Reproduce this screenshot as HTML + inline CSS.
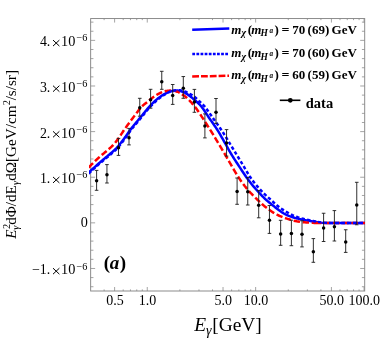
<!DOCTYPE html><html><head><meta charset="utf-8"><title>plot</title><style>
html,body{margin:0;padding:0;background:#fff;}svg{display:block;will-change:transform}
text{font-family:"Liberation Serif",serif;fill:#000}
</style></head><body>
<svg width="382" height="338" viewBox="0 0 382 338">
<rect width="382" height="338" fill="#fff"/>
<defs><clipPath id="c"><rect x="89.0" y="18.55" width="276.3" height="272.45"/></clipPath></defs>
<path d="M114.62,291.0v-4M114.62,18.55v4M147.25,291.0v-4M147.25,18.55v4M223.02,291.0v-4M223.02,18.55v4M255.65,291.0v-4M255.65,18.55v4M331.42,291.0v-4M331.42,18.55v4M364.05,291.0v-4M364.05,18.55v4M104.11,291.0v-1.6M104.11,18.55v1.6M123.20,291.0v-1.6M123.20,18.55v1.6M130.46,291.0v-1.6M130.46,18.55v1.6M136.74,291.0v-1.6M136.74,18.55v1.6M142.29,291.0v-1.6M142.29,18.55v1.6M179.88,291.0v-1.6M179.88,18.55v1.6M198.97,291.0v-1.6M198.97,18.55v1.6M212.51,291.0v-1.6M212.51,18.55v1.6M231.60,291.0v-1.6M231.60,18.55v1.6M238.86,291.0v-1.6M238.86,18.55v1.6M245.14,291.0v-1.6M245.14,18.55v1.6M250.69,291.0v-1.6M250.69,18.55v1.6M288.28,291.0v-1.6M288.28,18.55v1.6M307.37,291.0v-1.6M307.37,18.55v1.6M320.91,291.0v-1.6M320.91,18.55v1.6M340.00,291.0v-1.6M340.00,18.55v1.6M347.26,291.0v-1.6M347.26,18.55v1.6M353.54,291.0v-1.6M353.54,18.55v1.6M359.09,291.0v-1.6M359.09,18.55v1.6M90.65,286.72h2.8M364.7,286.72h-2.8M90.65,277.59h2.8M364.7,277.59h-2.8M90.65,268.47h4.5M364.7,268.47h-4.5M90.65,259.35h2.8M364.7,259.35h-2.8M90.65,250.22h2.8M364.7,250.22h-2.8M90.65,241.10h2.8M364.7,241.10h-2.8M90.65,231.97h2.8M364.7,231.97h-2.8M90.65,222.85h4.5M364.7,222.85h-4.5M90.65,213.73h2.8M364.7,213.73h-2.8M90.65,204.60h2.8M364.7,204.60h-2.8M90.65,195.48h2.8M364.7,195.48h-2.8M90.65,186.35h2.8M364.7,186.35h-2.8M90.65,177.23h4.5M364.7,177.23h-4.5M90.65,168.11h2.8M364.7,168.11h-2.8M90.65,158.98h2.8M364.7,158.98h-2.8M90.65,149.86h2.8M364.7,149.86h-2.8M90.65,140.73h2.8M364.7,140.73h-2.8M90.65,131.61h4.5M364.7,131.61h-4.5M90.65,122.49h2.8M364.7,122.49h-2.8M90.65,113.36h2.8M364.7,113.36h-2.8M90.65,104.24h2.8M364.7,104.24h-2.8M90.65,95.11h2.8M364.7,95.11h-2.8M90.65,85.99h4.5M364.7,85.99h-4.5M90.65,76.87h2.8M364.7,76.87h-2.8M90.65,67.74h2.8M364.7,67.74h-2.8M90.65,58.62h2.8M364.7,58.62h-2.8M90.65,49.49h2.8M364.7,49.49h-2.8M90.65,40.37h4.5M364.7,40.37h-4.5M90.65,31.25h2.8M364.7,31.25h-2.8M90.65,22.12h2.8M364.7,22.12h-2.8" stroke="#868686" stroke-width="0.75" fill="none"/>
<rect x="90.65" y="18.55" width="274.04999999999995" height="272.45" fill="none" stroke="#868686" stroke-width="0.95"/>
<g clip-path="url(#c)" fill="none" stroke-linejoin="round">
<path d="M88.50,172.70 L89.18,172.09 L89.85,171.48 L90.53,170.87 L91.21,170.26 L91.88,169.65 L92.56,169.03 L93.24,168.42 L93.92,167.80 L94.59,167.19 L95.27,166.57 L95.95,165.96 L96.62,165.35 L97.30,164.74 L97.98,164.14 L98.65,163.54 L99.33,162.95 L100.01,162.36 L100.69,161.78 L101.36,161.20 L102.04,160.63 L102.72,160.06 L103.39,159.50 L104.07,158.94 L104.75,158.37 L105.42,157.81 L106.10,157.24 L106.78,156.68 L107.46,156.10 L108.13,155.53 L108.81,154.95 L109.49,154.38 L110.16,153.81 L110.84,153.24 L111.52,152.67 L112.19,152.09 L112.87,151.51 L113.55,150.91 L114.23,150.30 L114.90,149.67 L115.58,149.02 L116.26,148.34 L116.93,147.63 L117.61,146.87 L118.29,146.09 L118.96,145.28 L119.64,144.44 L120.32,143.59 L121.00,142.72 L121.67,141.84 L122.35,140.95 L123.03,140.06 L123.70,139.16 L124.38,138.25 L125.06,137.31 L125.73,136.36 L126.41,135.39 L127.09,134.43 L127.77,133.46 L128.44,132.49 L129.12,131.54 L129.80,130.59 L130.47,129.66 L131.15,128.76 L131.83,127.88 L132.50,127.01 L133.18,126.16 L133.86,125.32 L134.54,124.49 L135.21,123.67 L135.89,122.86 L136.57,122.05 L137.24,121.24 L137.92,120.44 L138.60,119.64 L139.27,118.84 L139.95,118.03 L140.63,117.22 L141.31,116.40 L141.98,115.58 L142.66,114.74 L143.34,113.89 L144.01,113.04 L144.69,112.19 L145.37,111.35 L146.04,110.52 L146.72,109.70 L147.40,108.90 L148.08,108.13 L148.75,107.37 L149.43,106.61 L150.11,105.87 L150.78,105.14 L151.46,104.43 L152.14,103.73 L152.81,103.05 L153.49,102.40 L154.17,101.76 L154.85,101.14 L155.52,100.52 L156.20,99.92 L156.88,99.34 L157.55,98.77 L158.23,98.23 L158.91,97.71 L159.58,97.21 L160.26,96.73 L160.94,96.26 L161.62,95.81 L162.29,95.37 L162.97,94.95 L163.65,94.55 L164.32,94.16 L165.00,93.81 L165.68,93.47 L166.35,93.14 L167.03,92.81 L167.71,92.49 L168.38,92.18 L169.06,91.89 L169.74,91.63 L170.42,91.41 L171.09,91.23 L171.77,91.10 L172.45,91.01 L173.12,90.93 L173.80,90.85 L174.48,90.78 L175.15,90.71 L175.83,90.66 L176.51,90.63 L177.19,90.61 L177.86,90.60 L178.54,90.64 L179.22,90.74 L179.89,90.89 L180.57,91.07 L181.25,91.29 L181.92,91.53 L182.60,91.78 L183.28,92.04 L183.96,92.30 L184.63,92.62 L185.31,92.99 L185.99,93.41 L186.66,93.87 L187.34,94.35 L188.02,94.85 L188.69,95.35 L189.37,95.84 L190.05,96.32 L190.73,96.81 L191.40,97.32 L192.08,97.84 L192.76,98.37 L193.43,98.93 L194.11,99.49 L194.79,100.07 L195.46,100.66 L196.14,101.25 L196.82,101.86 L197.50,102.49 L198.17,103.13 L198.85,103.80 L199.53,104.50 L200.20,105.22 L200.88,105.98 L201.56,106.78 L202.23,107.65 L202.91,108.56 L203.59,109.51 L204.27,110.50 L204.94,111.52 L205.62,112.55 L206.30,113.60 L206.97,114.64 L207.65,115.68 L208.33,116.71 L209.00,117.72 L209.68,118.69 L210.36,119.66 L211.04,120.62 L211.71,121.58 L212.39,122.54 L213.07,123.50 L213.74,124.46 L214.42,125.43 L215.10,126.42 L215.77,127.42 L216.45,128.45 L217.13,129.49 L217.81,130.57 L218.48,131.67 L219.16,132.81 L219.84,133.96 L220.51,135.14 L221.19,136.33 L221.87,137.52 L222.54,138.72 L223.22,139.93 L223.90,141.12 L224.58,142.31 L225.25,143.50 L225.93,144.71 L226.61,145.93 L227.28,147.15 L227.96,148.36 L228.64,149.57 L229.31,150.77 L229.99,151.95 L230.67,153.11 L231.35,154.24 L232.02,155.35 L232.70,156.44 L233.38,157.52 L234.05,158.58 L234.73,159.63 L235.41,160.68 L236.08,161.72 L236.76,162.75 L237.44,163.78 L238.12,164.81 L238.79,165.84 L239.47,166.87 L240.15,167.91 L240.82,168.94 L241.50,169.98 L242.18,171.01 L242.85,172.04 L243.53,173.06 L244.21,174.07 L244.88,175.06 L245.56,176.05 L246.24,177.01 L246.92,177.95 L247.59,178.88 L248.27,179.80 L248.95,180.70 L249.62,181.59 L250.30,182.46 L250.98,183.33 L251.65,184.18 L252.33,185.01 L253.01,185.83 L253.69,186.64 L254.36,187.43 L255.04,188.20 L255.72,188.96 L256.39,189.71 L257.07,190.45 L257.75,191.19 L258.42,191.91 L259.10,192.64 L259.78,193.36 L260.46,194.09 L261.13,194.82 L261.81,195.55 L262.49,196.27 L263.16,196.98 L263.84,197.67 L264.52,198.34 L265.19,198.98 L265.87,199.60 L266.55,200.20 L267.23,200.79 L267.90,201.36 L268.58,201.92 L269.26,202.48 L269.93,203.04 L270.61,203.60 L271.29,204.16 L271.96,204.70 L272.64,205.25 L273.32,205.79 L274.00,206.32 L274.67,206.86 L275.35,207.39 L276.03,207.92 L276.70,208.46 L277.38,209.01 L278.06,209.55 L278.73,210.08 L279.41,210.58 L280.09,211.06 L280.77,211.52 L281.44,211.97 L282.12,212.40 L282.80,212.83 L283.47,213.24 L284.15,213.63 L284.83,214.00 L285.50,214.36 L286.18,214.69 L286.86,215.00 L287.54,215.30 L288.21,215.59 L288.89,215.87 L289.57,216.13 L290.24,216.39 L290.92,216.63 L291.60,216.86 L292.27,217.09 L292.95,217.31 L293.63,217.52 L294.31,217.72 L294.98,217.92 L295.66,218.11 L296.34,218.29 L297.01,218.46 L297.69,218.63 L298.37,218.78 L299.04,218.93 L299.72,219.08 L300.40,219.21 L301.08,219.35 L301.75,219.48 L302.43,219.60 L303.11,219.73 L303.78,219.86 L304.46,219.99 L305.14,220.12 L305.81,220.24 L306.49,220.37 L307.17,220.49 L307.85,220.62 L308.52,220.74 L309.20,220.86 L309.88,220.98 L310.55,221.10 L311.23,221.21 L311.91,221.33 L312.58,221.45 L313.26,221.56 L313.94,221.68 L314.62,221.79 L315.29,221.89 L315.97,222.00 L316.65,222.10 L317.32,222.21 L318.00,222.32" stroke="#0000ff" stroke-width="2.5"/>
<path d="M318.00,222.32 L322.27,222.81 L326.55,222.98 L330.82,223.00 L335.09,223.00 L339.36,223.00 L343.64,223.00 L347.91,223.00 L352.18,223.00 L356.45,223.00 L360.73,223.00 L365.00,223.00" stroke="#0000ff" stroke-width="2.3"/>
<path d="M88.50,167.62 L89.18,166.93 L89.85,166.25 L90.53,165.57 L91.21,164.90 L91.88,164.23 L92.56,163.56 L93.24,162.90 L93.92,162.23 L94.59,161.57 L95.27,160.92 L95.95,160.27 L96.62,159.62 L97.30,158.99 L97.98,158.36 L98.65,157.73 L99.33,157.12 L100.01,156.52 L100.69,155.93 L101.36,155.35 L102.04,154.79 L102.72,154.23 L103.39,153.67 L104.07,153.12 L104.75,152.57 L105.42,152.02 L106.10,151.46 L106.78,150.89 L107.46,150.32 L108.13,149.73 L108.81,149.14 L109.49,148.54 L110.16,147.94 L110.84,147.32 L111.52,146.68 L112.19,146.00 L112.87,145.29 L113.55,144.56 L114.23,143.79 L114.90,143.01 L115.58,142.20 L116.26,141.36 L116.93,140.50 L117.61,139.60 L118.29,138.66 L118.96,137.69 L119.64,136.69 L120.32,135.67 L121.00,134.64 L121.67,133.60 L122.35,132.57 L123.03,131.54 L123.70,130.54 L124.38,129.55 L125.06,128.59 L125.73,127.64 L126.41,126.70 L127.09,125.77 L127.77,124.85 L128.44,123.93 L129.12,123.02 L129.80,122.11 L130.47,121.19 L131.15,120.28 L131.83,119.37 L132.50,118.46 L133.18,117.54 L133.86,116.62 L134.54,115.70 L135.21,114.80 L135.89,113.91 L136.57,113.03 L137.24,112.14 L137.92,111.24 L138.60,110.36 L139.27,109.50 L139.95,108.66 L140.63,107.86 L141.31,107.11 L141.98,106.42 L142.66,105.77 L143.34,105.17 L144.01,104.59 L144.69,104.04 L145.37,103.50 L146.04,102.96 L146.72,102.43 L147.40,101.89 L148.08,101.33 L148.75,100.76 L149.43,100.19 L150.11,99.62 L150.78,99.05 L151.46,98.49 L152.14,97.95 L152.81,97.43 L153.49,96.94 L154.17,96.48 L154.85,96.03 L155.52,95.59 L156.20,95.16 L156.88,94.75 L157.55,94.35 L158.23,93.98 L158.91,93.63 L159.58,93.31 L160.26,92.99 L160.94,92.68 L161.62,92.37 L162.29,92.08 L162.97,91.81 L163.65,91.57 L164.32,91.36 L165.00,91.19 L165.68,91.07 L166.35,90.97 L167.03,90.88 L167.71,90.79 L168.38,90.71 L169.06,90.64 L169.74,90.58 L170.42,90.54 L171.09,90.51 L171.77,90.50 L172.45,90.52 L173.12,90.60 L173.80,90.72 L174.48,90.87 L175.15,91.06 L175.83,91.26 L176.51,91.48 L177.19,91.71 L177.86,91.94 L178.54,92.20 L179.22,92.52 L179.89,92.88 L180.57,93.28 L181.25,93.71 L181.92,94.16 L182.60,94.63 L183.28,95.10 L183.96,95.58 L184.63,96.09 L185.31,96.63 L185.99,97.20 L186.66,97.79 L187.34,98.41 L188.02,99.04 L188.69,99.70 L189.37,100.37 L190.05,101.06 L190.73,101.78 L191.40,102.53 L192.08,103.30 L192.76,104.10 L193.43,104.92 L194.11,105.76 L194.79,106.62 L195.46,107.49 L196.14,108.38 L196.82,109.31 L197.50,110.26 L198.17,111.24 L198.85,112.24 L199.53,113.26 L200.20,114.28 L200.88,115.31 L201.56,116.33 L202.23,117.36 L202.91,118.40 L203.59,119.45 L204.27,120.50 L204.94,121.57 L205.62,122.64 L206.30,123.71 L206.97,124.78 L207.65,125.84 L208.33,126.91 L209.00,127.97 L209.68,129.03 L210.36,130.09 L211.04,131.16 L211.71,132.24 L212.39,133.32 L213.07,134.42 L213.74,135.53 L214.42,136.64 L215.10,137.77 L215.77,138.89 L216.45,140.02 L217.13,141.15 L217.81,142.28 L218.48,143.41 L219.16,144.55 L219.84,145.69 L220.51,146.83 L221.19,147.97 L221.87,149.11 L222.54,150.25 L223.22,151.40 L223.90,152.54 L224.58,153.67 L225.25,154.81 L225.93,155.96 L226.61,157.10 L227.28,158.26 L227.96,159.42 L228.64,160.59 L229.31,161.78 L229.99,162.99 L230.67,164.19 L231.35,165.37 L232.02,166.55 L232.70,167.73 L233.38,168.90 L234.05,170.06 L234.73,171.21 L235.41,172.34 L236.08,173.45 L236.76,174.54 L237.44,175.60 L238.12,176.65 L238.79,177.69 L239.47,178.71 L240.15,179.72 L240.82,180.71 L241.50,181.67 L242.18,182.62 L242.85,183.54 L243.53,184.44 L244.21,185.33 L244.88,186.21 L245.56,187.06 L246.24,187.90 L246.92,188.72 L247.59,189.53 L248.27,190.31 L248.95,191.08 L249.62,191.82 L250.30,192.55 L250.98,193.26 L251.65,193.96 L252.33,194.65 L253.01,195.33 L253.69,196.01 L254.36,196.68 L255.04,197.35 L255.72,198.02 L256.39,198.69 L257.07,199.37 L257.75,200.04 L258.42,200.72 L259.10,201.38 L259.78,202.04 L260.46,202.68 L261.13,203.30 L261.81,203.91 L262.49,204.50 L263.16,205.07 L263.84,205.64 L264.52,206.19 L265.19,206.74 L265.87,207.27 L266.55,207.79 L267.23,208.31 L267.90,208.81 L268.58,209.31 L269.26,209.81 L269.93,210.30 L270.61,210.78 L271.29,211.25 L271.96,211.70 L272.64,212.15 L273.32,212.57 L274.00,212.98 L274.67,213.37 L275.35,213.75 L276.03,214.13 L276.70,214.49 L277.38,214.84 L278.06,215.18 L278.73,215.50 L279.41,215.82 L280.09,216.12 L280.77,216.41 L281.44,216.69 L282.12,216.96 L282.80,217.22 L283.47,217.48 L284.15,217.73 L284.83,217.97 L285.50,218.20 L286.18,218.43 L286.86,218.65 L287.54,218.87 L288.21,219.08 L288.89,219.28 L289.57,219.48 L290.24,219.67 L290.92,219.86 L291.60,220.05 L292.27,220.23 L292.95,220.41 L293.63,220.58 L294.31,220.76 L294.98,220.92 L295.66,221.08 L296.34,221.23 L297.01,221.37 L297.69,221.49 L298.37,221.60 L299.04,221.70 L299.72,221.80 L300.40,221.89 L301.08,221.98 L301.75,222.06 L302.43,222.13 L303.11,222.20 L303.78,222.26 L304.46,222.31 L305.14,222.35 L305.81,222.39 L306.49,222.43 L307.17,222.46 L307.85,222.50 L308.52,222.54 L309.20,222.58 L309.88,222.62 L310.55,222.67 L311.23,222.72 L311.91,222.78 L312.58,222.83 L313.26,222.87 L313.94,222.90 L314.62,222.92 L315.29,222.93 L315.97,222.95 L316.65,222.96 L317.32,222.98 L318.00,222.99" stroke="#ff0000" stroke-width="2.5" stroke-dasharray="6.4 2.7"/>
<path d="M318.00,222.99 L322.27,223.00 L326.55,223.00 L330.82,223.00 L335.09,223.00 L339.36,223.00 L343.64,223.00 L347.91,223.00 L352.18,223.00 L356.45,223.00 L360.73,223.00 L365.00,223.00" stroke="#ff0000" stroke-width="2.3" stroke-dasharray="6.4 2.7" stroke-dashoffset="3"/>
<path d="M88.50,173.60 L89.18,172.99 L89.85,172.38 L90.53,171.77 L91.21,171.16 L91.88,170.55 L92.56,169.93 L93.24,169.32 L93.92,168.70 L94.59,168.09 L95.27,167.47 L95.95,166.86 L96.62,166.25 L97.30,165.64 L97.98,165.04 L98.65,164.44 L99.33,163.85 L100.01,163.26 L100.69,162.68 L101.36,162.10 L102.04,161.53 L102.72,160.96 L103.39,160.39 L104.07,159.83 L104.75,159.26 L105.42,158.70 L106.10,158.14 L106.78,157.57 L107.46,157.00 L108.13,156.43 L108.81,155.85 L109.49,155.29 L110.16,154.73 L110.84,154.17 L111.52,153.61 L112.19,153.04 L112.87,152.47 L113.55,151.89 L114.23,151.29 L114.90,150.67 L115.58,150.02 L116.26,149.34 L116.93,148.63 L117.61,147.88 L118.29,147.10 L118.96,146.30 L119.64,145.48 L120.32,144.64 L121.00,143.78 L121.67,142.91 L122.35,142.04 L123.03,141.16 L123.70,140.27 L124.38,139.35 L125.06,138.42 L125.73,137.47 L126.41,136.51 L127.09,135.54 L127.77,134.57 L128.44,133.60 L129.12,132.64 L129.80,131.69 L130.47,130.76 L131.15,129.86 L131.83,128.98 L132.50,128.11 L133.18,127.26 L133.86,126.42 L134.54,125.59 L135.21,124.77 L135.89,123.96 L136.57,123.15 L137.24,122.34 L137.92,121.54 L138.60,120.74 L139.27,119.94 L139.95,119.13 L140.63,118.32 L141.31,117.50 L141.98,116.68 L142.66,115.84 L143.34,115.00 L144.01,114.15 L144.69,113.30 L145.37,112.46 L146.04,111.62 L146.72,110.81 L147.40,110.01 L148.08,109.23 L148.75,108.46 L149.43,107.70 L150.11,106.94 L150.78,106.20 L151.46,105.48 L152.14,104.77 L152.81,104.08 L153.49,103.40 L154.17,102.75 L154.85,102.10 L155.52,101.47 L156.20,100.85 L156.88,100.25 L157.55,99.66 L158.23,99.09 L158.91,98.54 L159.58,98.01 L160.26,97.50 L160.94,97.00 L161.62,96.51 L162.29,96.04 L162.97,95.58 L163.65,95.14 L164.32,94.72 L165.00,94.32 L165.68,93.93 L166.35,93.54 L167.03,93.15 L167.71,92.76 L168.38,92.39 L169.06,92.03 L169.74,91.71 L170.42,91.43 L171.09,91.19 L171.77,91.02 L172.45,90.87 L173.12,90.74 L173.80,90.61 L174.48,90.49 L175.15,90.39 L175.83,90.31 L176.51,90.25 L177.19,90.21 L177.86,90.20 L178.54,90.22 L179.22,90.28 L179.89,90.35 L180.57,90.46 L181.25,90.57 L181.92,90.71 L182.60,90.85 L183.28,91.00 L183.96,91.16 L184.63,91.37 L185.31,91.62 L185.99,91.92 L186.66,92.24 L187.34,92.59 L188.02,92.95 L188.69,93.32 L189.37,93.68 L190.05,94.03 L190.73,94.39 L191.40,94.77 L192.08,95.15 L192.76,95.57 L193.43,96.01 L194.11,96.48 L194.79,97.01 L195.46,97.59 L196.14,98.22 L196.82,98.87 L197.50,99.54 L198.17,100.20 L198.85,100.86 L199.53,101.49 L200.20,102.11 L200.88,102.72 L201.56,103.35 L202.23,103.98 L202.91,104.64 L203.59,105.34 L204.27,106.07 L204.94,106.86 L205.62,107.69 L206.30,108.57 L206.97,109.48 L207.65,110.42 L208.33,111.38 L209.00,112.35 L209.68,113.34 L210.36,114.34 L211.04,115.33 L211.71,116.31 L212.39,117.28 L213.07,118.23 L213.74,119.17 L214.42,120.11 L215.10,121.04 L215.77,121.98 L216.45,122.92 L217.13,123.86 L217.81,124.80 L218.48,125.76 L219.16,126.72 L219.84,127.69 L220.51,128.68 L221.19,129.69 L221.87,130.71 L222.54,131.75 L223.22,132.80 L223.90,133.88 L224.58,134.96 L225.25,136.05 L225.93,137.15 L226.61,138.26 L227.28,139.36 L227.96,140.47 L228.64,141.57 L229.31,142.67 L229.99,143.78 L230.67,144.88 L231.35,146.00 L232.02,147.11 L232.70,148.23 L233.38,149.34 L234.05,150.46 L234.73,151.58 L235.41,152.69 L236.08,153.81 L236.76,154.92 L237.44,156.04 L238.12,157.15 L238.79,158.26 L239.47,159.37 L240.15,160.49 L240.82,161.60 L241.50,162.71 L242.18,163.83 L242.85,164.94 L243.53,166.05 L244.21,167.18 L244.88,168.32 L245.56,169.47 L246.24,170.63 L246.92,171.78 L247.59,172.92 L248.27,174.05 L248.95,175.15 L249.62,176.23 L250.30,177.26 L250.98,178.26 L251.65,179.21 L252.33,180.14 L253.01,181.04 L253.69,181.92 L254.36,182.79 L255.04,183.63 L255.72,184.47 L256.39,185.29 L257.07,186.09 L257.75,186.88 L258.42,187.65 L259.10,188.41 L259.78,189.16 L260.46,189.89 L261.13,190.61 L261.81,191.32 L262.49,192.01 L263.16,192.69 L263.84,193.37 L264.52,194.03 L265.19,194.69 L265.87,195.33 L266.55,195.96 L267.23,196.59 L267.90,197.20 L268.58,197.81 L269.26,198.43 L269.93,199.04 L270.61,199.66 L271.29,200.27 L271.96,200.89 L272.64,201.50 L273.32,202.11 L274.00,202.71 L274.67,203.31 L275.35,203.91 L276.03,204.51 L276.70,205.11 L277.38,205.71 L278.06,206.29 L278.73,206.85 L279.41,207.39 L280.09,207.88 L280.77,208.36 L281.44,208.81 L282.12,209.25 L282.80,209.68 L283.47,210.10 L284.15,210.51 L284.83,210.91 L285.50,211.31 L286.18,211.71 L286.86,212.11 L287.54,212.50 L288.21,212.90 L288.89,213.28 L289.57,213.66 L290.24,214.02 L290.92,214.38 L291.60,214.71 L292.27,215.03 L292.95,215.33 L293.63,215.63 L294.31,215.91 L294.98,216.19 L295.66,216.46 L296.34,216.71 L297.01,216.96 L297.69,217.20 L298.37,217.42 L299.04,217.63 L299.72,217.84 L300.40,218.04 L301.08,218.23 L301.75,218.41 L302.43,218.59 L303.11,218.77 L303.78,218.94 L304.46,219.12 L305.14,219.29 L305.81,219.45 L306.49,219.61 L307.17,219.77 L307.85,219.92 L308.52,220.08 L309.20,220.23 L309.88,220.37 L310.55,220.52 L311.23,220.66 L311.91,220.81 L312.58,220.95 L313.26,221.09 L313.94,221.22 L314.62,221.35 L315.29,221.48 L315.97,221.59 L316.65,221.71 L317.32,221.83 L318.00,221.94" stroke="#0000ff" stroke-width="2.5" stroke-dasharray="3.4 2.3"/>
<path d="M318.00,221.94 L322.27,222.53 L326.55,222.90 L330.82,222.98 L335.09,223.00 L339.36,223.00 L343.64,223.00 L347.91,223.00 L352.18,223.00 L356.45,223.00 L360.73,223.00 L365.00,223.00" stroke="#0000ff" stroke-width="2.3" stroke-dasharray="4.1 1.9" stroke-dashoffset="1"/>
</g>
<g stroke="#1a1a1a" stroke-width="0.9" fill="#000">
<path d="M96.6,170.4V190.3M94.8,170.4H98.39999999999999M94.8,190.3H98.39999999999999" fill="none"/>
<circle cx="96.6" cy="180.7" r="1.75" stroke="none"/>
<path d="M106.95,164.6V183.0M105.15,164.6H108.75M105.15,183.0H108.75" fill="none"/>
<circle cx="106.95" cy="174.8" r="1.75" stroke="none"/>
<path d="M118.5,138.4V155.4M116.7,138.4H120.3M116.7,155.4H120.3" fill="none"/>
<circle cx="118.5" cy="147.8" r="1.75" stroke="none"/>
<path d="M129.0,128.4V144.9M127.2,128.4H130.8M127.2,144.9H130.8" fill="none"/>
<circle cx="129.0" cy="137.75" r="1.75" stroke="none"/>
<path d="M139.75,98.3V116.2M137.95,98.3H141.55M137.95,116.2H141.55" fill="none"/>
<circle cx="139.75" cy="107.7" r="1.75" stroke="none"/>
<path d="M150.6,89.3V108.2M148.79999999999998,89.3H152.4M148.79999999999998,108.2H152.4" fill="none"/>
<circle cx="150.6" cy="99.85" r="1.75" stroke="none"/>
<path d="M161.75,71.3V89.3M159.95,71.3H163.55M159.95,89.3H163.55" fill="none"/>
<circle cx="161.75" cy="81.75" r="1.75" stroke="none"/>
<path d="M172.7,84.5V104.4M170.89999999999998,84.5H174.5M170.89999999999998,104.4H174.5" fill="none"/>
<circle cx="172.7" cy="95.4" r="1.75" stroke="none"/>
<path d="M183.3,76.55V98.3M181.5,76.55H185.10000000000002M181.5,98.3H185.10000000000002" fill="none"/>
<circle cx="183.3" cy="88.2" r="1.75" stroke="none"/>
<path d="M194.4,89.4V112.3M192.6,89.4H196.20000000000002M192.6,112.3H196.20000000000002" fill="none"/>
<circle cx="194.4" cy="102.1" r="1.75" stroke="none"/>
<path d="M204.9,113.9V137.9M203.1,113.9H206.70000000000002M203.1,137.9H206.70000000000002" fill="none"/>
<circle cx="204.9" cy="126.1" r="1.75" stroke="none"/>
<path d="M216.0,98.5V123.4M214.2,98.5H217.8M214.2,123.4H217.8" fill="none"/>
<circle cx="216.0" cy="112.3" r="1.75" stroke="none"/>
<path d="M226.55,129.6V156.1M224.75,129.6H228.35000000000002M224.75,156.1H228.35000000000002" fill="none"/>
<circle cx="226.55" cy="143.0" r="1.75" stroke="none"/>
<path d="M237.1,178.0V204.3M235.29999999999998,178.0H238.9M235.29999999999998,204.3H238.9" fill="none"/>
<circle cx="237.1" cy="191.4" r="1.75" stroke="none"/>
<path d="M247.75,177.55V205.0M245.95,177.55H249.55M245.95,205.0H249.55" fill="none"/>
<circle cx="247.75" cy="191.7" r="1.75" stroke="none"/>
<path d="M258.7,190.6V217.8M256.9,190.6H260.5M256.9,217.8H260.5" fill="none"/>
<circle cx="258.7" cy="205.25" r="1.75" stroke="none"/>
<path d="M269.45,205.55V233.4M267.65,205.55H271.25M267.65,233.4H271.25" fill="none"/>
<circle cx="269.45" cy="220.25" r="1.75" stroke="none"/>
<path d="M280.65,220.3V245.3M278.84999999999997,220.3H282.45M278.84999999999997,245.3H282.45" fill="none"/>
<circle cx="280.65" cy="234.0" r="1.75" stroke="none"/>
<path d="M291.4,220.2V245.7M289.59999999999997,220.2H293.2M289.59999999999997,245.7H293.2" fill="none"/>
<circle cx="291.4" cy="233.55" r="1.75" stroke="none"/>
<path d="M302.0,220.8V246.9M300.2,220.8H303.8M300.2,246.9H303.8" fill="none"/>
<circle cx="302.0" cy="234.25" r="1.75" stroke="none"/>
<path d="M313.35,238.6V262.3M311.55,238.6H315.15000000000003M311.55,262.3H315.15000000000003" fill="none"/>
<circle cx="313.35" cy="251.7" r="1.75" stroke="none"/>
<path d="M323.6,213.25V241.5M321.8,213.25H325.40000000000003M321.8,241.5H325.40000000000003" fill="none"/>
<circle cx="323.6" cy="228.1" r="1.75" stroke="none"/>
<path d="M334.4,210.6V241.0M332.59999999999997,210.6H336.2M332.59999999999997,241.0H336.2" fill="none"/>
<circle cx="334.4" cy="226.65" r="1.75" stroke="none"/>
<path d="M345.7,229.75V252.4M343.9,229.75H347.5M343.9,252.4H347.5" fill="none"/>
<circle cx="345.7" cy="242.1" r="1.75" stroke="none"/>
<path d="M356.75,182.3V224.75M354.95,182.3H358.55M354.95,224.75H358.55" fill="none"/>
<circle cx="356.75" cy="204.9" r="1.75" stroke="none"/>
</g>
<text x="114.92" y="304.9" font-size="14" text-anchor="middle">0.5</text>
<text x="147.55" y="304.9" font-size="14" text-anchor="middle">1.0</text>
<text x="223.32" y="304.9" font-size="14" text-anchor="middle">5.0</text>
<text x="255.95" y="304.9" font-size="14" text-anchor="middle">10.0</text>
<text x="331.72" y="304.9" font-size="14" text-anchor="middle">50.0</text>
<text x="364.35" y="304.9" font-size="14" text-anchor="middle">100.0</text>
<text x="39.9" y="46.37" font-size="13.9">4.</text>
<path d="M53.0,40.07l6.4,6M59.4,40.07l-6.4,6" stroke="#000" stroke-width="1" fill="none"/>
<text x="61.1" y="46.37" font-size="13.9" textLength="14.3" lengthAdjust="spacingAndGlyphs">10</text>
<text x="76.5" y="41.47" font-size="10.3">−6</text>
<text x="39.9" y="91.99" font-size="13.9">3.</text>
<path d="M53.0,85.69l6.4,6M59.4,85.69l-6.4,6" stroke="#000" stroke-width="1" fill="none"/>
<text x="61.1" y="91.99" font-size="13.9" textLength="14.3" lengthAdjust="spacingAndGlyphs">10</text>
<text x="76.5" y="87.09" font-size="10.3">−6</text>
<text x="39.9" y="137.61" font-size="13.9">2.</text>
<path d="M53.0,131.31l6.4,6M59.4,131.31l-6.4,6" stroke="#000" stroke-width="1" fill="none"/>
<text x="61.1" y="137.61" font-size="13.9" textLength="14.3" lengthAdjust="spacingAndGlyphs">10</text>
<text x="76.5" y="132.71" font-size="10.3">−6</text>
<text x="39.9" y="183.23" font-size="13.9">1.</text>
<path d="M53.0,176.93l6.4,6M59.4,176.93l-6.4,6" stroke="#000" stroke-width="1" fill="none"/>
<text x="61.1" y="183.23" font-size="13.9" textLength="14.3" lengthAdjust="spacingAndGlyphs">10</text>
<text x="76.5" y="178.33" font-size="10.3">−6</text>
<text x="32.0" y="274.47" font-size="13.9">−1.</text>
<path d="M53.0,268.17l6.4,6M59.4,268.17l-6.4,6" stroke="#000" stroke-width="1" fill="none"/>
<text x="61.1" y="274.47" font-size="13.9" textLength="14.3" lengthAdjust="spacingAndGlyphs">10</text>
<text x="76.5" y="269.57" font-size="10.3">−6</text>
<text x="87.9" y="226.65" font-size="14.2" text-anchor="end">0</text>
<text x="194.2" y="330.7" font-size="19.4"><tspan font-style="italic">E</tspan><tspan font-size="14" dy="3.8" font-style="italic">γ</tspan><tspan dy="-3.8" dx="0.6">[GeV]</tspan></text>
<g transform="translate(16.1,238.8) rotate(-90)" font-size="15.15">
<text x="0.00" y="0" font-style="italic">E</text>
<text x="9.76" y="-6.5" font-size="10.3">2</text>
<text x="9.06" y="3.2" font-size="10.3" font-style="italic">γ</text>
<text x="13.96" y="0">dΦ/dE</text>
<text x="53.85" y="3.2" font-size="10.3" font-style="italic">γ</text>
<text x="58.05" y="0">dΩ[GeV/cm</text>
<text x="133.45" y="-6.5" font-size="10.3">2</text>
<text x="138.45" y="0">/s/sr]</text>
</g>
<text x="103.7" y="268.9" font-size="19" font-weight="bold">(</text><text x="109.8" y="268.9" font-size="19" font-weight="bold" font-style="italic">a</text><text x="119.8" y="268.9" font-size="19" font-weight="bold">)</text>
<path d="M192.2,29.7L229.3,28.5" stroke="#0000ff" stroke-width="2.5" fill="none"/>
<path d="M192.3,54.0H228.5" stroke="#0000ff" stroke-width="2.5" stroke-dasharray="2.75 1.37" fill="none"/>
<path d="M192.2,76.5L229,75.8" stroke="#ff0000" stroke-width="2.5" stroke-dasharray="6.8 2" fill="none"/>
<g font-weight="bold" font-size="13">
<text x="231.3" y="33.5" font-style="italic">m</text>
<text x="241.5" y="36.10" font-style="italic" font-size="10">χ</text>
<text x="247.8" y="33.5">(</text>
<text x="251.2" y="33.5" font-style="italic">m</text>
<text x="260.4" y="36.1" font-style="italic" font-size="9.5">H</text>
<text x="269.5" y="32.50" font-style="italic" font-size="7.2">a</text>
<text x="274.4" y="33.5">)</text>
<text x="281.6" y="33.5" textLength="8" lengthAdjust="spacingAndGlyphs">=</text>
<text x="292.3" y="33.5">70</text>
<text x="307.6" y="33.5">(69)</text>
<text x="331.6" y="33.5">GeV</text>
</g>
<g font-weight="bold" font-size="13">
<text x="231.3" y="57.0" font-style="italic">m</text>
<text x="241.5" y="59.60" font-style="italic" font-size="10">χ</text>
<text x="247.8" y="57.0">(</text>
<text x="251.2" y="57.0" font-style="italic">m</text>
<text x="260.4" y="59.6" font-style="italic" font-size="9.5">H</text>
<text x="269.5" y="56.00" font-style="italic" font-size="7.2">a</text>
<text x="274.4" y="57.0">)</text>
<text x="281.6" y="57.0" textLength="8" lengthAdjust="spacingAndGlyphs">=</text>
<text x="292.3" y="57.0">70</text>
<text x="307.6" y="57.0">(60)</text>
<text x="331.6" y="57.0">GeV</text>
</g>
<g font-weight="bold" font-size="13">
<text x="231.3" y="79.1" font-style="italic">m</text>
<text x="241.5" y="81.70" font-style="italic" font-size="10">χ</text>
<text x="247.8" y="79.1">(</text>
<text x="251.2" y="79.1" font-style="italic">m</text>
<text x="260.4" y="81.69999999999999" font-style="italic" font-size="9.5">H</text>
<text x="269.5" y="78.10" font-style="italic" font-size="7.2">a</text>
<text x="274.4" y="79.1">)</text>
<text x="281.6" y="79.1" textLength="8" lengthAdjust="spacingAndGlyphs">=</text>
<text x="292.3" y="79.1">60</text>
<text x="307.6" y="79.1">(59)</text>
<text x="331.6" y="79.1">GeV</text>
</g>
<path d="M279.8,100.3H300.4" stroke="#000" stroke-width="1.6" fill="none"/>
<circle cx="290.3" cy="100.3" r="2.4" fill="#000"/>
<text x="305.8" y="107.6" font-size="14.5" font-weight="bold">data</text>
</svg></body></html>
